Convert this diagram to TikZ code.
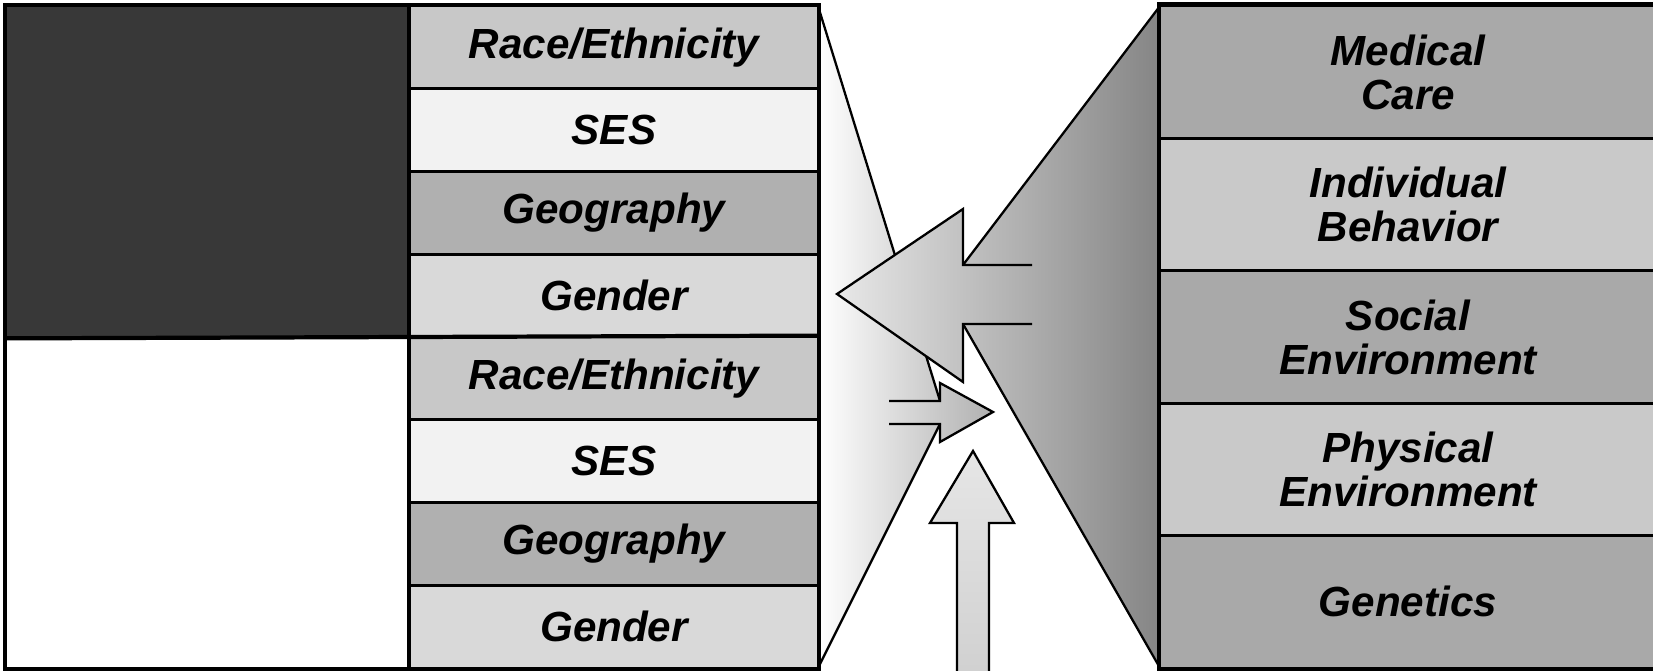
\documentclass[tikz,border=0pt]{standalone}
\usepackage{fontspec}
\setmainfont{Liberation Sans}
\definecolor{fdark}{HTML}{383838}
\definecolor{frace}{HTML}{C8C8C8}
\definecolor{fses}{HTML}{F2F2F2}
\definecolor{fgeo}{HTML}{B0B0B0}
\definecolor{fgender}{HTML}{D9D9D9}
\definecolor{fdeep}{HTML}{A9A9A9}
\definecolor{fpale}{HTML}{C9C9C9}
\definecolor{funlight}{HTML}{E8E8E8}
\definecolor{fundark}{HTML}{858585}
\definecolor{uplight}{HTML}{E6E6E6}
\definecolor{updark}{HTML}{D0D0D0}

\begin{document}
\begin{tikzpicture}[x=0.02cm, y=-0.02cm,
  every node/.style={font=\fontsize{24}{25}\selectfont\bfseries\itshape},
  groupcell/.style={rectangle, minimum width=8.16cm, minimum height=1.655cm, draw, line width=1.6pt, inner sep=0pt},
  areabox/.style={rectangle, minimum width=9.92cm, minimum height=2.648cm, draw, line width=1.6pt, inner sep=0pt, align=center},
  halfbox/.style={rectangle, minimum width=8.08cm, minimum height=6.62cm, draw, line width=1.6pt, inner sep=0pt},
  edgeline/.style={line width=1.3pt, line join=miter},
  frame/.style={line width=2.4pt},
]
\useasboundingbox (0,0) rectangle (1653,671);

% left funnel with small arrow
\coordinate (lt) at (818,6);
\coordinate (lb) at (818,668);
\coordinate (sa) at (993,412);
\coordinate (saht) at (940,383);
\coordinate (sast) at (940,401);
\coordinate (sae1) at (889,401);
\coordinate (sae2) at (889,424);
\coordinate (sasb) at (940,424);
\coordinate (sahb) at (940,442);
\shade[left color=white, right color=fgeo]
  (lt) -- (sast) -- (sasb) -- (lb) -- cycle
  (sa) -- (sahb) -- (sasb) -- (sae2) -- (sae1) -- (sast) -- (saht) -- cycle;
\draw[edgeline] (sae1) -- (sast) -- (saht) -- (sa) -- (sahb) -- (sasb) -- (sae2);
\draw[edgeline] (lt) -- (sast) (lb) -- (sasb);

% right funnel with big arrow
\coordinate (rt) at (1160,6);
\coordinate (rb) at (1160,668);
\coordinate (ba) at (837,294);
\coordinate (baht) at (963,209);
\coordinate (bast) at (963,265);
\coordinate (bae1) at (1032,265);
\coordinate (bae2) at (1032,324);
\coordinate (basb) at (963,324);
\coordinate (bahb) at (963,382);
\shade[left color=funlight, right color=fundark]
  (rt) -- (bast) -- (basb) -- (rb) -- cycle
  (ba) -- (bahb) -- (basb) -- (bae2) -- (bae1) -- (bast) -- (baht) -- cycle;
\draw[edgeline] (bae1) -- (bast) -- (baht) -- (ba) -- (bahb) -- (basb) -- (bae2);
\draw[edgeline] (rt) -- (bast) (rb) -- (basb);

% up arrow
\coordinate (ua) at (973,451);
\coordinate (uahr) at (1014,523);
\coordinate (uasr) at (989,523);
\coordinate (uabr) at (989,680);
\coordinate (uabl) at (957,680);
\coordinate (uasl) at (957,523);
\coordinate (uahl) at (930,523);
\shade[top color=uplight, bottom color=updark]
  (ua) -- (uahr) -- (uasr) -- (uabr) -- (uabl) -- (uasl) -- (uahl) -- cycle;
\draw[edgeline] (uabr) -- (uasr) -- (uahr) -- (ua) -- (uahl) -- (uasl) -- (uabl);

% left block
\node[halfbox, fill=fdark] (upper) at (208,171.5) {};
\node[halfbox, fill=white] (lower) at (208,502.5) {};

\node[groupcell, fill=frace] (race1) at (614,47.4) {Race/Ethnicity};
\node[groupcell, fill=fses] (ses1) at (614,130.1) {SES};
\node[groupcell, fill=fgeo] (geo1) at (614,212.9) {Geography};
\node[groupcell, fill=fgender] (gender1) at (614,295.6) {Gender};
\node[groupcell, fill=frace] (race2) at (614,378.4) {Race/Ethnicity};
\node[groupcell, fill=fses] (ses2) at (614,461.1) {SES};
\node[groupcell, fill=fgeo] (geo2) at (614,543.9) {Geography};
\node[groupcell, fill=fgender] (gender2) at (614,626.6) {Gender};

\draw[frame] (upper.north west) rectangle (gender2.south east);
\draw[frame] (race1.north west) -- (gender2.south west);
\draw[frame] (upper.south west) -- (race2.north east);

% right block
\node[areabox, fill=fdeep] (care) at (1408,72.2) {Medical\\Care};
\node[areabox, fill=fpale] (behav) at (1408,204.6) {Individual\\Behavior};
\node[areabox, fill=fdeep] (social) at (1408,337) {Social\\Environment};
\node[areabox, fill=fpale] (physical) at (1408,469.4) {Physical\\Environment};
\node[areabox, fill=fdeep] (genetics) at (1408,601.8) {Genetics};

\draw[frame] (care.north east) -- (care.north west) -- (genetics.south west) -- (genetics.south east);

\end{tikzpicture}
\end{document}
